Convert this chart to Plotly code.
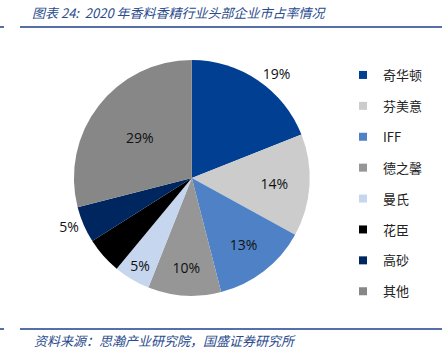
import plotly.graph_objects as go

companies = ["奇华顿", "芬美意", "IFF", "德之馨", "曼氏", "花臣", "高砂", "其他"]
shares = [19, 14, 13, 10, 5, 5, 5, 29]
label_text = ["19%", "14%", "13%", "10%", "5%", "", "5%", "29%"]
label_pos = ["outside", "inside", "inside", "inside", "inside", "inside", "outside", "inside"]
colors = ["#003F91", "#CCCCCC", "#4F81C6", "#969696", "#C6D6EE", "#000000", "#002660", "#878787"]

title = "图表 24:  2020 年香料香精行业头部企业市占率情况"
source = "资料来源：思瀚产业研究院，国盛证券研究所"

fig = go.Figure()
fig.add_trace(go.Pie(
    labels=companies, values=shares, text=label_text, textinfo="text",
    textposition=label_pos, sort=False, direction="clockwise", rotation=0,
    marker=dict(colors=colors, line=dict(width=0)),
    insidetextorientation="horizontal",
    textfont=dict(family="Open Sans, Liberation Sans", size=14, color="#111111"),
    outsidetextfont=dict(family="Open Sans, Liberation Sans", size=14, color="#111111"),
    domain=dict(x=[0.167, 0.701], y=[0.162, 0.83]),
    showlegend=False, hoverinfo="label+percent",
))
for i, (name, c) in enumerate(zip(companies, colors)):
    fig.add_trace(go.Scatter(
        x=[None], y=[None], mode="markers", name=name, legendgroup=name,
        marker=dict(symbol="square", size=8, color=c), showlegend=True,
    ))

fig.update_layout(
    width=442, height=353, margin=dict(l=0, r=0, t=0, b=0),
    paper_bgcolor="white", plot_bgcolor="white",
    xaxis=dict(visible=False), yaxis=dict(visible=False),
    uniformtext=dict(minsize=14, mode="show"),
    legend=dict(x=343/442, y=1-60/353, xanchor="left", yanchor="top",
                font=dict(family="Noto Sans CJK SC", size=13, color="#222222"),
                tracegroupgap=11, itemwidth=30, bgcolor="rgba(0,0,0,0)"),
    shapes=[
        dict(type="line", xref="paper", yref="paper", x0=20/442, x1=1, y0=1-27/353, y1=1-27/353,
             line=dict(color="#1F3F8C", width=1.5)),
        dict(type="line", xref="paper", yref="paper", x0=0, x1=4/442, y0=1-27/353, y1=1-27/353,
             line=dict(color="#1F3F8C", width=1.5)),
        dict(type="line", xref="paper", yref="paper", x0=20/442, x1=1, y0=1-329/353, y1=1-329/353,
             line=dict(color="#1F3F8C", width=1.5)),
        dict(type="line", xref="paper", yref="paper", x0=0, x1=4/442, y0=1-329/353, y1=1-329/353,
             line=dict(color="#1F3F8C", width=1.5)),
    ],
    annotations=[
        dict(text="<i>" + title + "</i>", xref="paper", yref="paper", x=30/442, y=1-12/353,
             xanchor="left", yanchor="middle", showarrow=False,
             font=dict(family="Noto Sans CJK SC", size=13, color="#2A4B8D")),
        dict(text="<i>" + source + "</i>", xref="paper", yref="paper", x=32/442, y=1-340/353,
             xanchor="left", yanchor="middle", showarrow=False,
             font=dict(family="Noto Sans CJK SC", size=13, color="#2A4B8D")),
    ],
)
fig.write_html("out.html")
